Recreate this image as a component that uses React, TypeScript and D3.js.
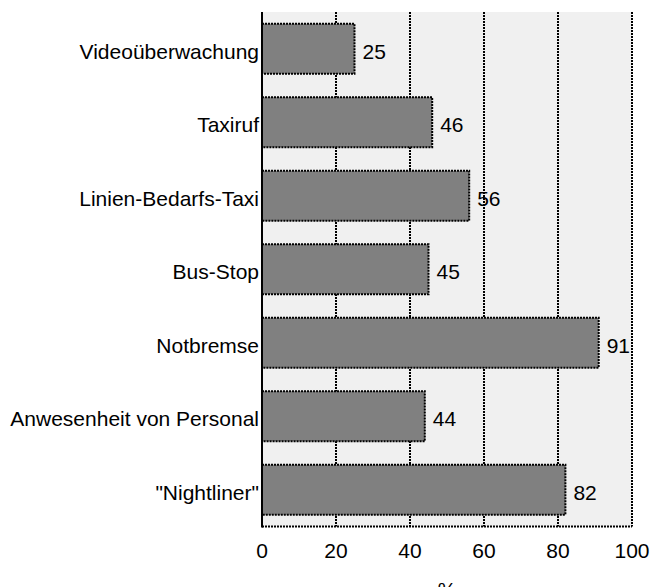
import React from "react";
import * as d3 from "d3";

const categories: string[] = [
  "Videoüberwachung",
  "Taxiruf",
  "Linien-Bedarfs-Taxi",
  "Bus-Stop",
  "Notbremse",
  "Anwesenheit von Personal",
  '"Nightliner"',
];
const values: number[] = [25, 46, 56, 45, 91, 44, 82];
const xTicks: number[] = [0, 20, 40, 60, 80, 100];
const axisTitle = "%";

const W = 653;
const H = 587;
const left = 262;
const right = 632;
const top = 12;
const bottom = 526.5;
const FONT = "Liberation Sans, Arial, sans-serif";
const FS = 21;

export default function App() {
  const x = d3.scaleLinear().domain([0, 100]).range([left, right]);
  const y = d3
    .scaleBand<string>()
    .domain(categories)
    .range([top, bottom])
    .paddingInner(0.32)
    .paddingOuter(0.16);
  const dash = "2,1";

  return (
    <svg
      width={W}
      height={H}
      style={{ position: "absolute", left: 0, top: 0, background: "#fff" }}
      fontFamily={FONT}
    >
      <rect x={left} y={top} width={right - left} height={bottom - top} fill="#f0f0f0" />
      {xTicks.slice(1).map((t) => (
        <line
          key={"g" + t}
          x1={x(t)}
          x2={x(t)}
          y1={top}
          y2={bottom}
          stroke="#000"
          strokeWidth={2}
          strokeDasharray={dash}
        />
      ))}
      <line x1={left} x2={right} y1={bottom} y2={bottom} stroke="#000" strokeWidth={2} strokeDasharray={dash} />
      {categories.map((c, i) => {
        const yy = y(c)!;
        const bw = y.bandwidth();
        const cy = yy + bw / 2;
        return (
          <g key={c}>
            <rect
              x={x(0)}
              y={yy}
              width={x(values[i]) - x(0)}
              height={bw}
              fill="#808080"
              stroke="#000"
              strokeWidth={2}
              strokeDasharray={dash}
            />
            <text x={x(values[i]) + 8} y={cy + 10} fontSize={FS} fill="#000">
              {values[i]}
            </text>
            <text x={left - 3} y={cy + 10} fontSize={FS} textAnchor="end" fill="#000">
              {c}
            </text>
          </g>
        );
      })}
      <line x1={left} x2={left} y1={top} y2={bottom + 1} stroke="#000" strokeWidth={2} />
      {xTicks.map((t) => (
        <text key={"t" + t} x={x(t)} y={bottom + 31} fontSize={FS} textAnchor="middle" fill="#000">
          {t}
        </text>
      ))}
      <text x={(left + right) / 2} y={bottom + 70} fontSize={FS} textAnchor="middle" fill="#000">
        {axisTitle}
      </text>
    </svg>
  );
}
